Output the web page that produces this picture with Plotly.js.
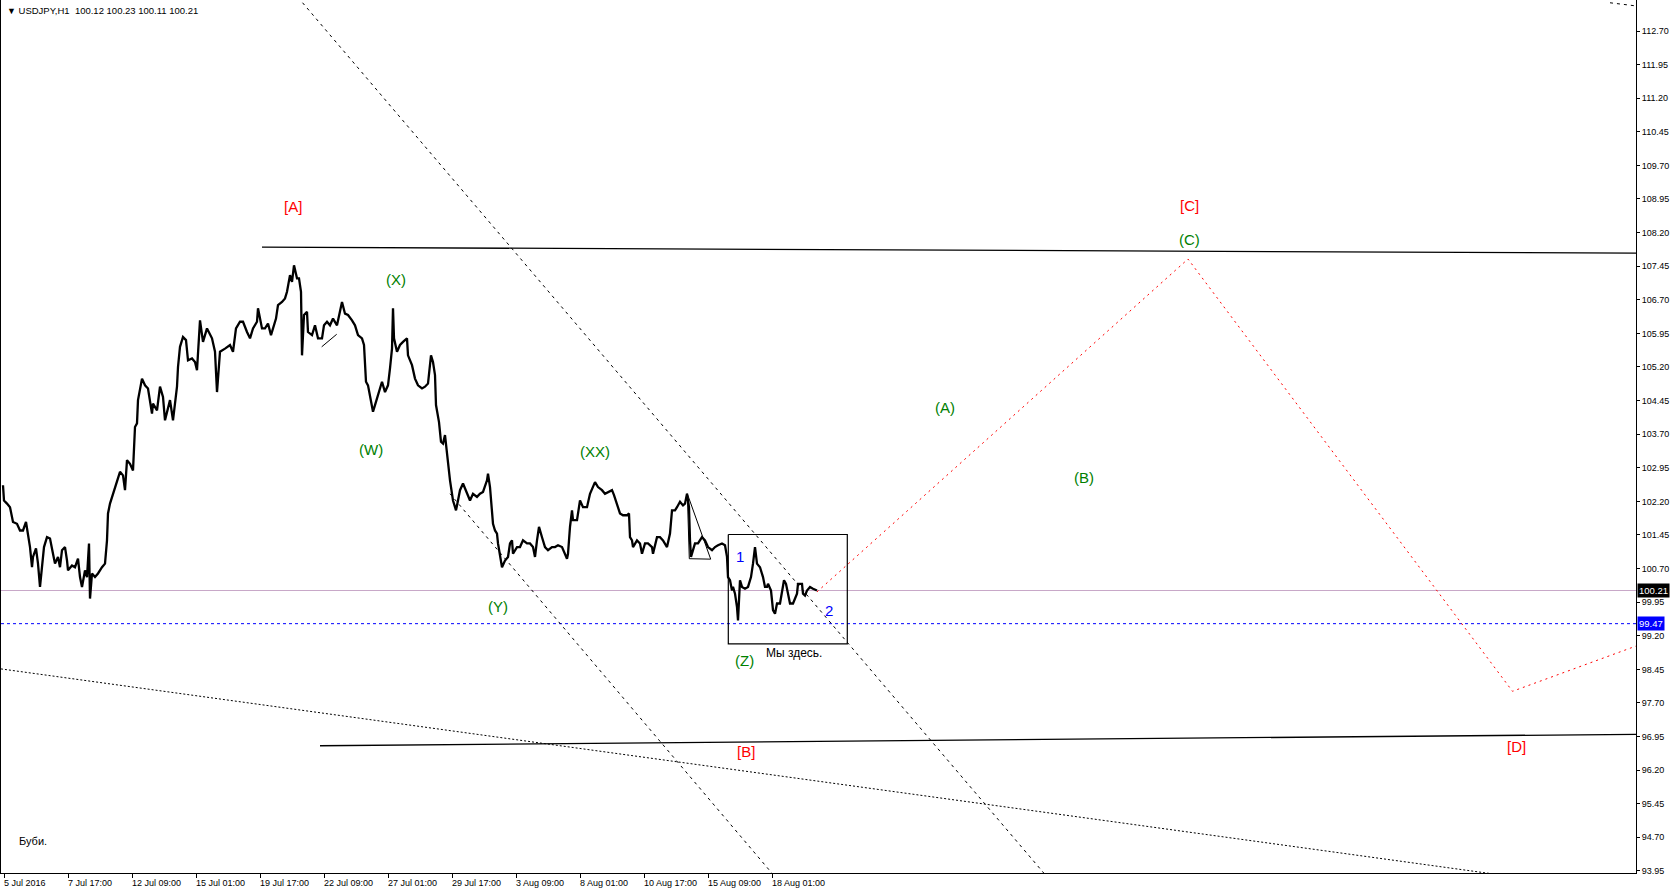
<!DOCTYPE html>
<html>
<head>
<meta charset="utf-8">
<script src="https://cdn.plot.ly/plotly-3.0.1.min.js"></script>
<style>
html,body{margin:0;padding:0;background:#fff;}
#chart{width:1676px;height:894px;}
</style>
</head>
<body>
<div id="chart"></div>
<script>
// ---- price path (bar index from 5 Jul 2016 01:00, H1 bars) ----
const barIdx = [-1,0,3,6,9,13,16,19,22,24,26,28,29,32,34,36,38,40,43,46,49,51,54,56,58,61,63,64,68,71,74,76,78,81,83,85,86,88,91,94,98,101,103,104,106,109,113,116,119,121,123,126,129,130,131,133,134,138,141,144,148,149,153,156,159,161,164,166,169,171,173,174,176,179,182,184,188,191,193,194,196,199,203,208,211,213,216,221,226,229,232,236,239,243,246,249,253,254,258,261,264,267,269,272,274,278,281,283,286,288,290,293,295,297,298,300,303,304,308,311,314,318,320,323,326,329,333,335,338,341,344,348,351,354,358,360,362,364,367,369,371,374,378,381,384,386,388,389,390,393,396,399,403,404,408,411,414,418,421,424,427,429,431,432,435,437,439,441,443,446,449,452,454,456,459,463,466,469,473,476,479,483,484,486,488,489,491,493,494,496,498,501,504,506,508,509,513,516,519,523,526,529,531,533,535,538,541,544,548,551,554,558,561,563,564,566,568,569,573,576,579,583,586,589,591,594,598,601,604,608,610,613,616,619,623,625,626,628,629,633,636,638,641,644,648,649,653,656,659,663,666,668,671,673,676,679,681,683,685,686,687,689,691,694,698,701,704,708,711,714,718,721,723,724,726,728,729,731,733,734,736,738,741,744,747,749,751,753,756,759,761,763,764,767,769,771,773,776,778,780,782,784,786,789,793,794,798,799,801,803,806,809,813];
const price = [102.56,102.22,102.15,102.07,101.74,101.70,101.55,101.55,101.74,101.48,101.18,100.73,100.96,101.15,100.81,100.29,100.73,101.18,101.40,101.37,101.03,100.81,100.96,100.73,101.11,101.18,100.88,100.66,100.77,100.73,100.92,100.51,100.29,100.66,100.51,101.26,100.03,100.59,100.51,100.59,100.73,100.81,101.33,101.93,102.15,102.37,102.67,102.86,102.78,102.45,103.12,103.04,102.89,103.42,103.86,103.94,104.46,104.94,104.79,104.72,104.16,104.38,104.23,104.76,104.53,104.01,104.31,104.46,104.01,104.46,104.76,105.20,105.65,105.87,105.80,105.35,105.39,105.31,105.13,105.50,106.24,105.76,106.06,105.84,105.54,104.64,105.54,105.61,105.69,105.54,106.06,106.21,106.21,105.98,105.84,106.06,106.21,106.51,106.06,106.06,106.17,105.91,106.06,106.28,106.58,106.65,106.73,106.88,107.25,107.10,107.47,107.18,107.18,106.88,105.46,106.36,106.43,105.98,105.91,106.13,105.84,105.84,106.13,106.21,106.13,106.28,106.13,106.36,106.65,106.39,106.36,106.24,106.13,105.91,105.84,105.69,104.87,104.79,104.42,104.20,104.35,104.57,104.87,104.64,104.79,105.17,105.61,106.51,105.84,105.54,105.69,105.76,105.84,105.46,105.24,104.94,104.79,104.72,104.76,104.83,105.46,105.31,105.02,104.35,103.97,103.53,103.49,103.68,103.23,102.67,102.22,102.00,102.22,102.45,102.60,102.37,102.22,102.37,102.30,102.37,102.41,102.67,102.82,102.52,102.07,101.70,101.55,101.48,101.26,100.96,100.73,100.88,100.96,101.26,101.33,101.03,101.18,101.18,101.33,101.26,101.26,101.18,100.96,101.33,101.63,101.40,101.18,101.11,101.18,101.18,101.22,101.18,101.03,100.92,101.03,101.63,102.00,101.78,101.78,102.22,102.07,102.07,102.37,102.52,102.63,102.52,102.45,102.37,102.41,102.45,102.34,102.15,101.93,101.89,101.89,101.93,101.40,101.33,101.18,101.33,101.26,101.03,101.26,101.26,101.18,101.03,101.40,101.40,101.33,101.18,101.48,102.00,102.00,102.07,102.19,102.11,102.15,102.37,102.07,101.33,100.96,101.11,101.26,101.26,101.40,101.33,101.18,101.11,101.18,101.22,101.26,101.22,100.96,100.51,100.44,100.21,100.29,100.14,99.84,99.54,100.44,100.29,100.25,100.29,100.51,100.81,101.18,100.81,100.73,100.51,100.29,100.29,100.36,100.21,99.77,99.69,99.92,99.92,100.21,100.44,100.36,100.14,99.92,99.92,100.14,100.36,100.36,100.14,100.10,100.21,100.29,100.25,100.21];

// ---- time axis ticks ----
const xTickIdx = [0,64,128,192,256,320,384,448,512,576,640,704,768];
const xTickText = ['5 Jul 2016','7 Jul 17:00','12 Jul 09:00','15 Jul 01:00','19 Jul 17:00','22 Jul 09:00','27 Jul 01:00','29 Jul 17:00','3 Aug 09:00','8 Aug 01:00','10 Aug 17:00','15 Aug 09:00','18 Aug 01:00'];

// ---- horizontal levels ----
const bidLevel = 100.21;
const supportLevel = 99.47;

// ---- trend lines (bar index, price) ----
const topLineX = [258, 1632];        const topLineY = [107.875, 107.74];
const bottomLineX = [316, 1632];     const bottomLineY = [96.745, 97.0];
const steepLine1X = [294, 1046];     const steepLine1Y = [113.45, 93.74];
const steepLine2X = [446, 774];      const steepLine2Y = [102.37, 93.74];
const shallowLineX = [-3, 1500];     const shallowLineY = [98.46, 93.85];
const forecastX = [813, 1184, 1508.5, 1632];  const forecastY = [100.18, 107.61, 97.96, 98.97];
const boxX = [724.3, 843.3, 843.3, 724.3, 724.3]; const boxY = [101.46, 101.46, 99.02, 99.02, 101.46];
const triX = [683.3, 706.7, 685.3, 683.3];  const triY = [102.37, 100.91, 100.92, 102.37];
const smallLineX = [317.7, 332.7];   const smallLineY = [105.65, 105.93];
const cornerLineX = [1606, 1632];    const cornerLineY = [113.33, 113.26];

// ---- wave labels ----
const labelText  = ['[A]','(X)','(W)','(XX)','(Y)','(Z)','[B]','(A)','(B)','[C]','(C)','[D]','1','2','Мы здесь.','Буби.'];
const labelX     = [288.9,391.5,366.9,591.4,494.1,740.3,741.8,940.9,1079.9,1185.5,1185.5,1512.8,736,825.3,790.3,29.1];
const labelY     = [108.74,107.11,103.31,103.27,99.80,98.61,96.58,104.24,102.69,108.77,107.99,96.69,100.92,99.73,98.78,94.57];
const labelColor = ['#ff0000','#008000','#008000','#008000','#008000','#008000','#ff0000','#008000','#008000','#ff0000','#008000','#ff0000','#0000ff','#0000ff','#000000','#000000'];
const labelSize  = [15,15,15,15,15,15,15,15,15,15,15,15,15,15,12,11];

const FONT = 'Liberation Sans, Arial, sans-serif';
const xRange = [-3, 1632];
const yRange = [93.904, 113.392];

function lineTrace(x, y, color, width, dash) {
  return {x: x, y: y, type: 'scatter', mode: 'lines', hoverinfo: 'skip',
          line: {color: color, width: width, dash: dash || 'solid'}};
}

const traces = [
  lineTrace([xRange[0], xRange[1]], [bidLevel, bidLevel], '#c8a8c8', 1),
  lineTrace([xRange[0], xRange[1]], [supportLevel, supportLevel], '#0000ff', 1, '3px,3px'),
  lineTrace(shallowLineX, shallowLineY, '#000', 1, '2px,2px'),
  lineTrace(steepLine1X, steepLine1Y, '#000', 1, '3px,4px'),
  lineTrace(steepLine2X, steepLine2Y, '#000', 1, '3px,4px'),
  lineTrace(cornerLineX, cornerLineY, '#000', 1, '3px,4px'),
  lineTrace(topLineX, topLineY, '#000', 1.3),
  lineTrace(bottomLineX, bottomLineY, '#000', 1.3),
  lineTrace(forecastX, forecastY, '#ff0000', 1, '2px,4px'),
  lineTrace(boxX, boxY, '#000', 1.2),
  lineTrace(triX, triY, '#000', 1),
  lineTrace(smallLineX, smallLineY, '#000', 1),
  lineTrace(barIdx, price, '#000', 2.3)
];

const annotations = [];
for (let k = 0; k < labelText.length; k++) {
  annotations.push({x: labelX[k], y: labelY[k], xref: 'x', yref: 'y', text: labelText[k],
    showarrow: false, yshift: 2, font: {family: FONT, size: labelSize[k], color: labelColor[k]}});
}
for (let k = 0; k < xTickIdx.length; k++) {
  annotations.push({x: xTickIdx[k], y: 0, xref: 'x', yref: 'paper', text: xTickText[k],
    showarrow: false, xanchor: 'left', yanchor: 'top', xshift: -2, yshift: -3,
    font: {family: FONT, size: 9, color: '#000'}});
}
annotations.push({x: 0, y: 1, xref: 'paper', yref: 'paper', xanchor: 'left', yanchor: 'top',
  xshift: 4, yshift: -3, showarrow: false,
  text: '<span style="font-size:9px">▼</span>\u00a0USDJPY,H1\u00a0\u00a0100.12\u00a0100.23\u00a0100.11\u00a0100.21',
  font: {family: FONT, size: 9.5, color: '#000'}});
annotations.push({x: 1, y: bidLevel, xref: 'paper', yref: 'y', xanchor: 'left', yanchor: 'middle',
  xshift: 1, showarrow: false, text: bidLevel.toFixed(2), bgcolor: '#000', borderpad: 1,
  font: {family: FONT, size: 9.5, color: '#fff'}});
annotations.push({x: 1, y: supportLevel, xref: 'paper', yref: 'y', xanchor: 'left', yanchor: 'middle',
  xshift: 1, showarrow: false, text: supportLevel.toFixed(2), bgcolor: '#0000ff', borderpad: 1,
  font: {family: FONT, size: 9.5, color: '#fff'}});

const layout = {
  width: 1676, height: 894,
  margin: {l: 1, r: 40, t: 0, b: 21, pad: 0},
  paper_bgcolor: '#fff', plot_bgcolor: '#fff',
  showlegend: false,
  font: {family: FONT, size: 9, color: '#000'},
  xaxis: {range: xRange, showgrid: false, zeroline: false, showline: true, linecolor: '#000', linewidth: 1,
          tickmode: 'array', tickvals: xTickIdx, ticktext: xTickText, showticklabels: false,
          ticks: 'outside', ticklen: 4, tickcolor: '#000', fixedrange: true},
  yaxis: {range: yRange, side: 'right', showgrid: false, zeroline: false, showline: true, mirror: true,
          linecolor: '#000', linewidth: 1, tickmode: 'linear', tick0: 93.95, dtick: 0.75,
          tickformat: '.2f', ticks: 'outside', ticklen: 3, tickcolor: '#000',
          tickfont: {family: FONT, size: 9, color: '#000'}, fixedrange: true},
  annotations: annotations
};

Plotly.newPlot('chart', traces, layout, {displayModeBar: false, staticPlot: true});
</script>
</body>
</html>
